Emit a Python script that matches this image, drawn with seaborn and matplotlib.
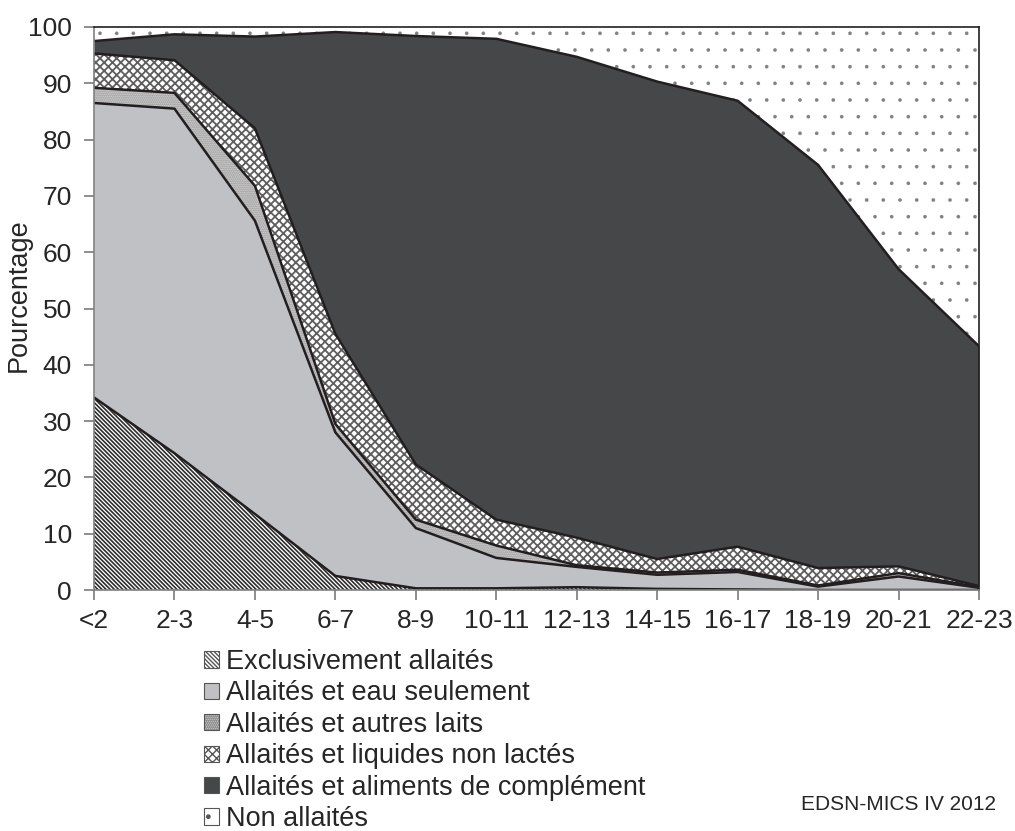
import matplotlib.pyplot as plt
import seaborn as sns
import pandas as pd
import numpy as np
from matplotlib.patches import Patch

ages = ["<2", "2-3", "4-5", "6-7", "8-9", "10-11", "12-13", "14-15",
        "16-17", "18-19", "20-21", "22-23"]

# cumulative tops (percent)
excl = [34.2, 24.3, 13.5, 2.5, 0.3, 0.3, 0.5, 0.2, 0.1, 0.0, 0.0, 0.0]
eau = [86.5, 85.5, 65.6, 28.0, 11.0, 5.7, 4.1, 2.7, 3.2, 0.6, 2.4, 0.4]
laits = [89.2, 88.3, 71.8, 29.5, 12.5, 7.9, 4.4, 3.1, 3.6, 0.8, 3.0, 0.5]
liquides = [95.3, 94.1, 82.0, 45.5, 22.3, 12.5, 9.3, 5.5, 7.7, 3.9, 4.2, 0.7]
complement = [97.5, 98.7, 98.3, 99.1, 98.4, 97.9, 94.7, 90.3, 86.9, 75.5, 57.0, 43.3]
total = [100.0] * 12

labels = ["Exclusivement allaités", "Allaités et eau seulement",
          "Allaités et autres laits", "Allaités et liquides non lactés",
          "Allaités et aliments de complément", "Non allaités"]

sns.set_theme(style="white")
plt.rcParams['font.family'] = ['Liberation Sans', 'DejaVu Sans']

fig = plt.figure(figsize=(10.15, 8.31), dpi=100)
ax = fig.add_axes([94 / 1015, 1 - 590 / 831, (979 - 94) / 1015, (590 - 27) / 831])

x = np.arange(len(ages))
tops = [excl, eau, laits, liquides, complement, total]
faces = ["white", "#c0c1c4", "#dcdcdc", "white", "#464749", "white"]
hcols = ["#2e2e2e", "#c0c1c4", "#8a8a8a", "#5e5e5e", "#464749", "#808080"]
hatches = ["\\\\\\\\\\\\\\\\", None, "........", "xxxx", None, "."]
hlw = [1.2, 1.0, 1.0, 1.3, 1.0, 0.2]

lower = np.zeros(len(ages))
for top, fc, hc, h, lw in zip(tops, faces, hcols, hatches, hlw):
    plt.rcParams['hatch.linewidth'] = lw
    ax.fill_between(x, lower, top, facecolor=fc, edgecolor=hc, hatch=h, linewidth=0)
    lower = np.array(top)
plt.rcParams['hatch.linewidth'] = 1.0

# outlines between layers
df = pd.DataFrame({"x": np.tile(x, 5),
                   "y": np.concatenate(tops[:5]),
                   "layer": np.repeat(labels[:5], len(ages))})
sns.lineplot(data=df, x="x", y="y", hue="layer", palette=["#231f20"] * 5,
             linewidth=1.8, legend=False, ax=ax)

ax.set_xlim(0, len(ages) - 1)
ax.set_ylim(0, 100)
ax.set_xticks(x)
ax.set_xticklabels(ages, fontsize=19)
ax.set_yticks(range(0, 101, 10))
ax.tick_params(axis="y", labelsize=19, length=7, color="#808080", left=True, pad=9)
ax.tick_params(axis="x", length=7, color="#808080", bottom=True, pad=7)
ax.set_xlabel("")
ax.set_ylabel("Pourcentage", fontsize=19.5)
ax.yaxis.set_label_coords(-0.070, 0.524)
for side in ["left", "bottom"]:
    ax.spines[side].set_color("#808080")
for side in ["top", "right"]:
    ax.spines[side].set_color("#231f20")
for s in ax.spines.values():
    s.set_linewidth(1.2)

handles = [Patch(facecolor=fc, edgecolor="#555555", hatch=h, linewidth=0.8)
           for fc, h in zip(faces, hatches)]
fig.legend(handles, labels, loc="upper left", bbox_to_anchor=(204 / 1015, 1 - 649 / 831),
           frameon=False, fontsize=19.5, handlelength=0.55, handleheight=0.55,
           handletextpad=0.25, labelspacing=0.2, borderpad=0, borderaxespad=0)

fig.text(996 / 1015, 1 - 805 / 831, "EDSN-MICS IV 2012", ha="right", va="center",
         fontsize=15)

fig.savefig("out.png", dpi=100)
